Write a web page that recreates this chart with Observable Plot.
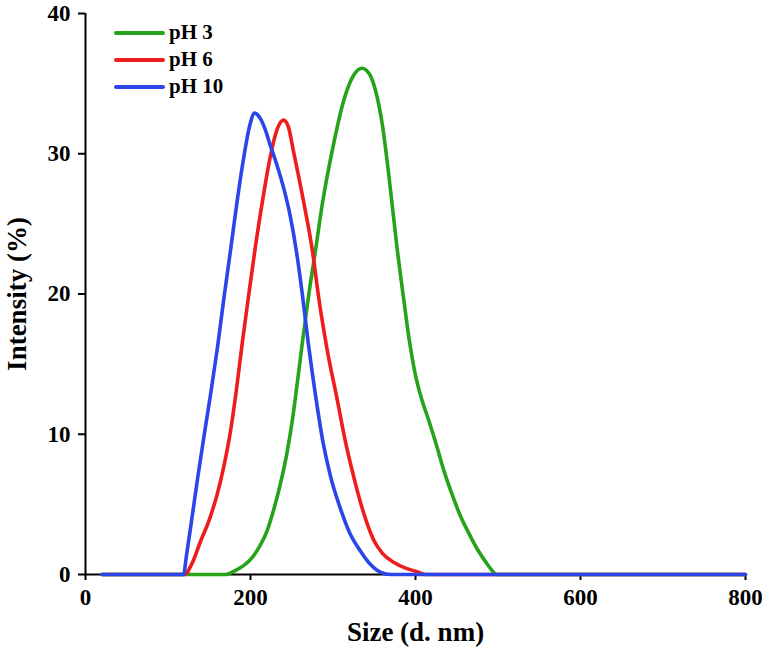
<!DOCTYPE html>
<html>
<head>
<meta charset="utf-8">
<script src="https://cdn.jsdelivr.net/npm/d3@7"></script>
<script src="https://cdn.jsdelivr.net/npm/@observablehq/plot@0.6"></script>
<style>
  html, body { margin: 0; padding: 0; background: #fff; }
  #wrap { position: relative; width: 762px; height: 647px; }
  #legend { position: absolute; left: 114px; top: 19px; font-family: "Liberation Serif", "Times New Roman", serif; font-weight: bold; font-size: 21px; color: #000; }
  #legend .row { display: flex; align-items: center; height: 27px; }
  #legend .swatch { width: 51px; height: 0; border-top: 4px solid; border-radius: 2px; margin-right: 4px; }
</style>
</head>
<body>
<div id="wrap"></div>
<script>
// Series labels and colours
const seriesNames = ["pH 3", "pH 6", "pH 10"];
const seriesColors = ["#26a31a", "#ee1c1c", "#2a45e8"];

// pH 3 (green)
const size3 = [20, 170, 182, 192, 202, 211, 220, 228, 236, 244, 251, 257, 263, 270, 279, 287, 299, 313, 325, 335, 344, 352, 360, 368, 378, 386, 393, 400, 408, 416, 425, 435, 445, 455, 465, 475, 485, 492, 498, 800];
const int3  = [0, 0, 0.3, 0.65, 1.2, 2.0, 3.1, 4.6, 6.4, 8.6, 11.1, 13.8, 16.6, 19.7, 23.2, 26.4, 30.2, 33.8, 35.6, 36.1, 35.7, 34.4, 32.0, 28.3, 23.1, 19.5, 16.5, 14.2, 12.4, 11.0, 9.3, 7.3, 5.6, 4.1, 2.9, 1.8, 0.9, 0.35, 0, 0];

// pH 6 (red)
const size6 = [20, 120, 130, 139, 150, 160, 168, 176, 183, 190, 198, 206, 215, 224, 232, 240, 246, 252, 264, 275, 283, 293, 305, 315, 325, 333, 341, 349, 360, 374, 388, 402, 412, 800];
const int6  = [0, 0, 0.9, 2.3, 3.9, 5.8, 7.8, 10.3, 13.2, 16.5, 20, 23.4, 26.8, 29.8, 31.7, 32.4, 31.9, 30.2, 26.7, 23.1, 19.6, 16, 12.5, 9.5, 7.0, 5.2, 3.7, 2.5, 1.5, 0.85, 0.45, 0.2, 0, 0];

// pH 10 (blue)
const size10 = [20, 119, 122, 128, 136, 144, 152, 160, 168, 176, 184, 192, 199, 205, 212, 218, 224, 232, 240, 248, 256, 263, 270, 279, 288, 297, 309, 320, 333, 345, 358, 370, 800];
const int10  = [0, 0, 1.2, 3.6, 6.9, 10, 13, 16.2, 19.8, 23.2, 26.7, 29.8, 32.0, 32.9, 32.5, 31.7, 30.6, 29.2, 27.6, 25.6, 22.9, 19.9, 16.5, 12.7, 9.4, 7.0, 4.7, 3.0, 1.7, 0.75, 0.15, 0, 0];

// Axis ticks
const xTicks = [0, 200, 400, 600, 800];
const yTicks = [0, 10, 20, 30, 40];
const xLabel = "Size (d. nm)";
const yLabel = "Intensity (%)";

const table = (xs, ys, name) => xs.map((x, i) => ({size: x, intensity: ys[i], series: name}));
const d3data = table(size3, int3, seriesNames[0]);
const d6data = table(size6, int6, seriesNames[1]);
const d10data = table(size10, int10, seriesNames[2]);

const font = '"Liberation Serif", "Times New Roman", serif';

const chart = Plot.plot({
  width: 762,
  height: 647,
  marginLeft: 85,
  marginRight: 17,
  marginTop: 13,
  marginBottom: 73,
  style: { fontFamily: font, fontWeight: "bold", fontSize: "23px", color: "#000", background: "#fff" },
  x: { domain: [0, 800], ticks: xTicks },
  y: { domain: [0, 40], ticks: yTicks },
  marks: [
    Plot.ruleY([0], { stroke: "#000", strokeWidth: 2 }),
    Plot.ruleX([0], { stroke: "#000", strokeWidth: 2 }),
    Plot.axisX({ ticks: xTicks, tickSize: 6, tickPadding: 8, strokeWidth: 2, label: null, fontSize: 23 }),
    Plot.axisY({ ticks: yTicks, tickSize: 7, tickPadding: 8, strokeWidth: 2, label: null, fontSize: 23 }),
    Plot.line(d3data, { x: "size", y: "intensity", stroke: seriesColors[0], strokeWidth: 3.6, curve: "monotone-x" }),
    Plot.line(d6data, { x: "size", y: "intensity", stroke: seriesColors[1], strokeWidth: 3.6, curve: "monotone-x" }),
    Plot.line(d10data, { x: "size", y: "intensity", stroke: seriesColors[2], strokeWidth: 3.6, curve: "monotone-x" }),
    Plot.text([xLabel], { frameAnchor: "bottom", textAnchor: "middle", lineAnchor: "bottom", dy: 66, fontSize: 27, fontWeight: "bold" }),
    Plot.text([yLabel], { frameAnchor: "left", textAnchor: "middle", lineAnchor: "middle", rotate: -90, dx: -68, fontSize: 27, fontWeight: "bold" })
  ]
});

const wrap = document.getElementById("wrap");
wrap.appendChild(chart);

const legend = document.createElement("div");
legend.id = "legend";
seriesNames.forEach((name, i) => {
  const row = document.createElement("div");
  row.className = "row";
  const sw = document.createElement("span");
  sw.className = "swatch";
  sw.style.borderTopColor = seriesColors[i];
  const tx = document.createElement("span");
  tx.textContent = name;
  row.appendChild(sw);
  row.appendChild(tx);
  legend.appendChild(row);
});
wrap.appendChild(legend);
</script>
</body>
</html>
